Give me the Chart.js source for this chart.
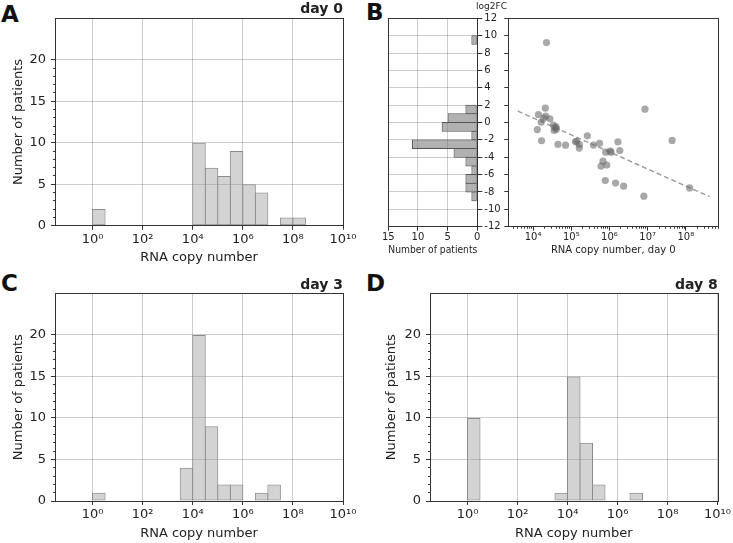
<!DOCTYPE html>
<html>
<head>
<meta charset="utf-8">
<script src="https://cdn.jsdelivr.net/npm/chart.js@4.4.1/dist/chart.umd.min.js"></script>
<style>
  body { margin: 0; background: #fff; width: 733px; height: 543px; position: relative; overflow: hidden; }
  canvas { position: absolute; }
  .letter { position: absolute; font: bold 23px "DejaVu Sans", sans-serif; line-height: 23px; color: #111; }
</style>
</head>
<body>
<div class="letter" style="left:1px;top:3px">A</div>
<div class="letter" style="left:366px;top:1px">B</div>
<div class="letter" style="left:1px;top:272px">C</div>
<div class="letter" style="left:366px;top:272px">D</div>

<canvas id="day0" width="366" height="270" style="left:0;top:0"></canvas>
<canvas id="fcHist" width="137" height="270" style="left:370px;top:0"></canvas>
<canvas id="fcScatter" width="233" height="270" style="left:500px;top:0"></canvas>
<canvas id="day3" width="366" height="273" style="left:0;top:270px"></canvas>
<canvas id="day8" width="363" height="273" style="left:370px;top:270px"></canvas>

<script>
// histogram bins: lower edge in log10(RNA copies), bins are half a decade wide
const binWidth = 0.5;
const day0Bins = [0, 4, 4.5, 5, 5.5, 6, 6.5, 7.5, 8];
const day0Counts = [2, 10, 7, 6, 9, 5, 4, 1, 1];
const day3Bins = [0, 3.5, 4, 4.5, 5, 5.5, 6.5, 7];
const day3Counts = [1, 4, 20, 9, 2, 2, 1, 2];
const day8Bins = [0, 3.5, 4, 4.5, 5, 6.5];
const day8Counts = [10, 1, 15, 7, 2, 1];

// log2FC histogram (panel B, left), bins of width 1
const fcBinLow = [9, 1, 0, -1, -2, -3, -4, -5, -6, -7, -8, -9];
const fcCounts = [1, 2, 5, 6, 1, 11, 4, 2, 1, 2, 2, 1];

// scatter: log10 RNA copy number on day 0 vs log2FC
const copyLog = [4.35, 4.32, 4.14, 4.33, 4.44, 4.21, 4.28, 4.11, 4.22, 4.53, 4.57, 4.61, 4.55, 4.60,
  4.65, 4.85, 5.11, 5.14, 5.21, 5.21, 5.42, 5.58, 5.74, 5.90, 6.02, 6.04, 5.83, 5.78, 5.93, 5.89,
  6.16, 6.37, 6.22, 6.27, 6.93, 6.90, 7.64, 8.10];
const log2fc = [9.2, 1.65, 0.92, 0.73, 0.42, 0.04, 0.5, -0.81, -2.1, -0.3, -0.6, -0.77, -0.92, -0.5,
  -2.53, -2.61, -2.2, -2.2, -2.53, -2.95, -1.54, -2.6, -2.4, -3.42, -3.3, -3.42, -4.45, -5.03, -4.9, -6.68,
  -6.98, -7.33, -2.23, -3.23, 1.54, -8.48, -2.07, -7.53];
const fitLog = [3.6, 8.62];
const fitFC = [1.31, -8.53];

// ticks
const histXTicks = [0, 2, 4, 6, 8, 10];
const histYTicks = [0, 5, 10, 15, 20];
const histYMinor = [1, 2, 3, 4, 6, 7, 8, 9, 11, 12, 13, 14, 16, 17, 18, 19];
const fcTicks = [-12, -10, -8, -6, -4, -2, 0, 2, 4, 6, 8, 10, 12];
const fcCountTicks = [0, 5, 10, 15];
const scatterMajor = [4, 5, 6, 7, 8];
const scatterMinorDecades = [3, 4, 5, 6, 7, 8];
const minorMantissa = [2, 3, 4, 5, 6, 7, 8, 9];

Chart.defaults.font.family = '"DejaVu Sans", sans-serif';
Chart.defaults.color = '#222';
Chart.defaults.animation = false;
Chart.defaults.plugins.legend.display = false;
Chart.defaults.plugins.tooltip.enabled = false;

const GRID = 'rgba(0,0,0,0.2)';
const AXIS = '#333';
const SUP = { '0': '⁰', '1': '¹', '2': '²', '3': '³', '4': '⁴', '5': '⁵', '6': '⁶', '7': '⁷', '8': '⁸', '9': '⁹', '-': '⁻' };
const pow10 = e => '10' + String(e).split('').map(c => SUP[c]).join('');

const setTicks = values => scale => { scale.ticks = values.map(v => ({ value: v })); };
const fixWidth = w => scale => { scale.width = w; };
const fixHeight = h => scale => { scale.height = h; };

// matplotlib style box around the plot area
const frame = {
  id: 'frame',
  afterDraw(chart) {
    const { ctx, chartArea: a } = chart;
    ctx.save();
    ctx.strokeStyle = AXIS;
    ctx.lineWidth = 1;
    ctx.strokeRect(Math.round(a.left) + 0.5, Math.round(a.top) + 0.5,
      Math.round(a.right - a.left), Math.round(a.bottom - a.top));
    ctx.restore();
  }
};

function histogram(id, bins, counts, dayLabel, g) {
  new Chart(document.getElementById(id), {
    type: 'bar',
    data: {
      datasets: [{
        data: bins.map((b, i) => ({ x: b + binWidth / 2, y: counts[i] })),
        backgroundColor: 'rgba(150,150,150,0.42)',
        borderColor: '#8c8c8c',
        borderWidth: 1,
        borderSkipped: false,
        barPercentage: 1.08, // neighbouring bars share one edge, like matplotlib
        categoryPercentage: 1
      }]
    },
    options: {
      responsive: false,
      layout: { padding: { left: 0, top: 0, bottom: 0, right: g.w - g.r } },
      plugins: {
        title: {
          display: true, text: dayLabel, align: 'end', color: '#222',
          font: { size: 14, weight: 'bold' },
          padding: { top: g.dayY - 8.4, bottom: Math.max(0, g.t - g.dayY - 8.4) }
        }
      },
      scales: {
        x: {
          type: 'linear', min: -1.5, max: 10, offset: false,
          afterBuildTicks: setTicks(histXTicks),
          afterFit: fixHeight(g.h - g.b),
          ticks: { callback: v => pow10(v), font: { size: 13 }, padding: 2, maxRotation: 0, autoSkip: false },
          grid: { color: GRID, tickColor: AXIS, tickLength: 4, offset: false },
          border: { display: false },
          title: { display: true, text: 'RNA copy number', font: { size: 13 }, padding: { top: 0, bottom: g.h - g.xTitleY - 7.8 } }
        },
        y: {
          min: 0, max: 25, weight: 1,
          afterBuildTicks: setTicks(histYTicks),
          afterFit: fixWidth(g.l),
          ticks: { font: { size: 13 }, padding: 5 },
          grid: { color: GRID, tickColor: AXIS, tickLength: 4 },
          border: { display: false },
          title: { display: true, text: 'Number of patients', font: { size: 13 }, padding: { top: g.yTitleX - 7.8, bottom: 0 } }
        },
        yMinor: {
          position: 'left', min: 0, max: 25, weight: 0,
          afterBuildTicks: setTicks(histYMinor),
          afterFit: fixWidth(0),
          ticks: { display: false },
          grid: { drawOnChartArea: false, tickColor: AXIS, tickLength: 2 },
          border: { display: false }
        }
      }
    },
    plugins: [frame]
  });
}

histogram('day0', day0Bins, day0Counts, 'day 0', { w: 366, h: 270, l: 55, t: 18.3, r: 343, b: 225.7, dayY: 9.5, yTitleX: 18.5, xTitleY: 258 });
histogram('day3', day3Bins, day3Counts, 'day 3', { w: 366, h: 273, l: 55, t: 23.3, r: 343, b: 231, dayY: 15, yTitleX: 18.5, xTitleY: 263.5 });
histogram('day8', day8Bins, day8Counts, 'day 8', { w: 363, h: 273, l: 60, t: 23.3, r: 347.7, b: 231, dayY: 15, yTitleX: 21.7, xTitleY: 263.5 });

// panel B left: sideways histogram of log2FC
new Chart(document.getElementById('fcHist'), {
  type: 'bar',
  data: {
    datasets: [{
      data: fcBinLow.map((b, i) => ({ x: fcCounts[i], y: b + 0.5 })),
      backgroundColor: 'rgba(125,125,125,0.6)',
      borderColor: '#555',
      borderWidth: 1,
      borderSkipped: false,
      barPercentage: 1.11,
      categoryPercentage: 1
    }]
  },
  options: {
    responsive: false,
    indexAxis: 'y',
    layout: { padding: { left: 18.3, top: 0, bottom: 0, right: 0 } },
    plugins: {
      title: { display: true, text: 'log2FC', align: 'end', color: '#222', font: { size: 9, weight: 'normal' }, padding: { top: 1.3, bottom: 6.2 } }
    },
    scales: {
      x: {
        type: 'linear', min: 0, max: 15, reverse: true,
        afterBuildTicks: setTicks(fcCountTicks),
        afterFit: fixHeight(43.3),
        ticks: { font: { size: 10 }, padding: 1 },
        grid: { color: GRID, tickColor: AXIS, tickLength: 4 },
        border: { display: false },
        title: { display: true, text: 'Number of patients', font: { size: 10 }, padding: { top: 0, bottom: 13.3 } }
      },
      y: {
        type: 'linear', position: 'right', min: -12, max: 12, offset: false,
        afterBuildTicks: setTicks(fcTicks),
        afterFit: fixWidth(29.7),
        ticks: { font: { size: 10 }, padding: 2 },
        grid: { color: GRID, tickColor: AXIS, tickLength: 5, offset: false },
        border: { display: false }
      }
    }
  },
  plugins: [frame]
});

// panel B right: scatter with regression line
new Chart(document.getElementById('fcScatter'), {
  type: 'scatter',
  data: {
    datasets: [{
      data: copyLog.map((v, i) => ({ x: Math.pow(10, v), y: log2fc[i] })),
      backgroundColor: 'rgba(105,105,105,0.58)',
      borderWidth: 0,
      pointRadius: 3.6
    }, {
      data: fitLog.map((v, i) => ({ x: Math.pow(10, v), y: fitFC[i] })),
      showLine: true,
      borderColor: '#9a9a9a',
      borderWidth: 1.4,
      borderDash: [5, 3],
      pointRadius: 0
    }]
  },
  options: {
    responsive: false,
    layout: { padding: { left: 0, top: 18.3, bottom: 0, right: 14.7 } },
    scales: {
      x: {
        type: 'logarithmic', min: Math.pow(10, 3.35), max: Math.pow(10, 8.85), weight: 1,
        afterBuildTicks: setTicks(scatterMajor.map(e => Math.pow(10, e))),
        afterFit: fixHeight(43.3),
        ticks: { callback: v => pow10(Math.round(Math.log10(v))), font: { size: 10 }, padding: 1, maxRotation: 0, autoSkip: false },
        grid: { drawOnChartArea: false, tickColor: AXIS, tickLength: 4 },
        border: { display: false },
        title: { display: true, text: 'RNA copy number, day 0', font: { size: 10 }, padding: { top: 0, bottom: 13.3 } }
      },
      xMinor: {
        type: 'logarithmic', position: 'bottom', min: Math.pow(10, 3.35), max: Math.pow(10, 8.85), weight: 0,
        afterBuildTicks: setTicks(scatterMinorDecades.flatMap(d => minorMantissa.map(m => m * Math.pow(10, d)))
          .filter(v => v > Math.pow(10, 3.35) && v < Math.pow(10, 8.85))),
        afterFit: fixHeight(0),
        ticks: { display: false },
        grid: { drawOnChartArea: false, tickColor: AXIS, tickLength: 2 },
        border: { display: false }
      },
      y: {
        min: -12, max: 12,
        afterBuildTicks: setTicks(fcTicks),
        afterFit: fixWidth(8.3),
        ticks: { display: false },
        grid: { drawOnChartArea: false, tickColor: AXIS, tickLength: 4 },
        border: { display: false }
      }
    }
  },
  plugins: [frame]
});
</script>
</body>
</html>
